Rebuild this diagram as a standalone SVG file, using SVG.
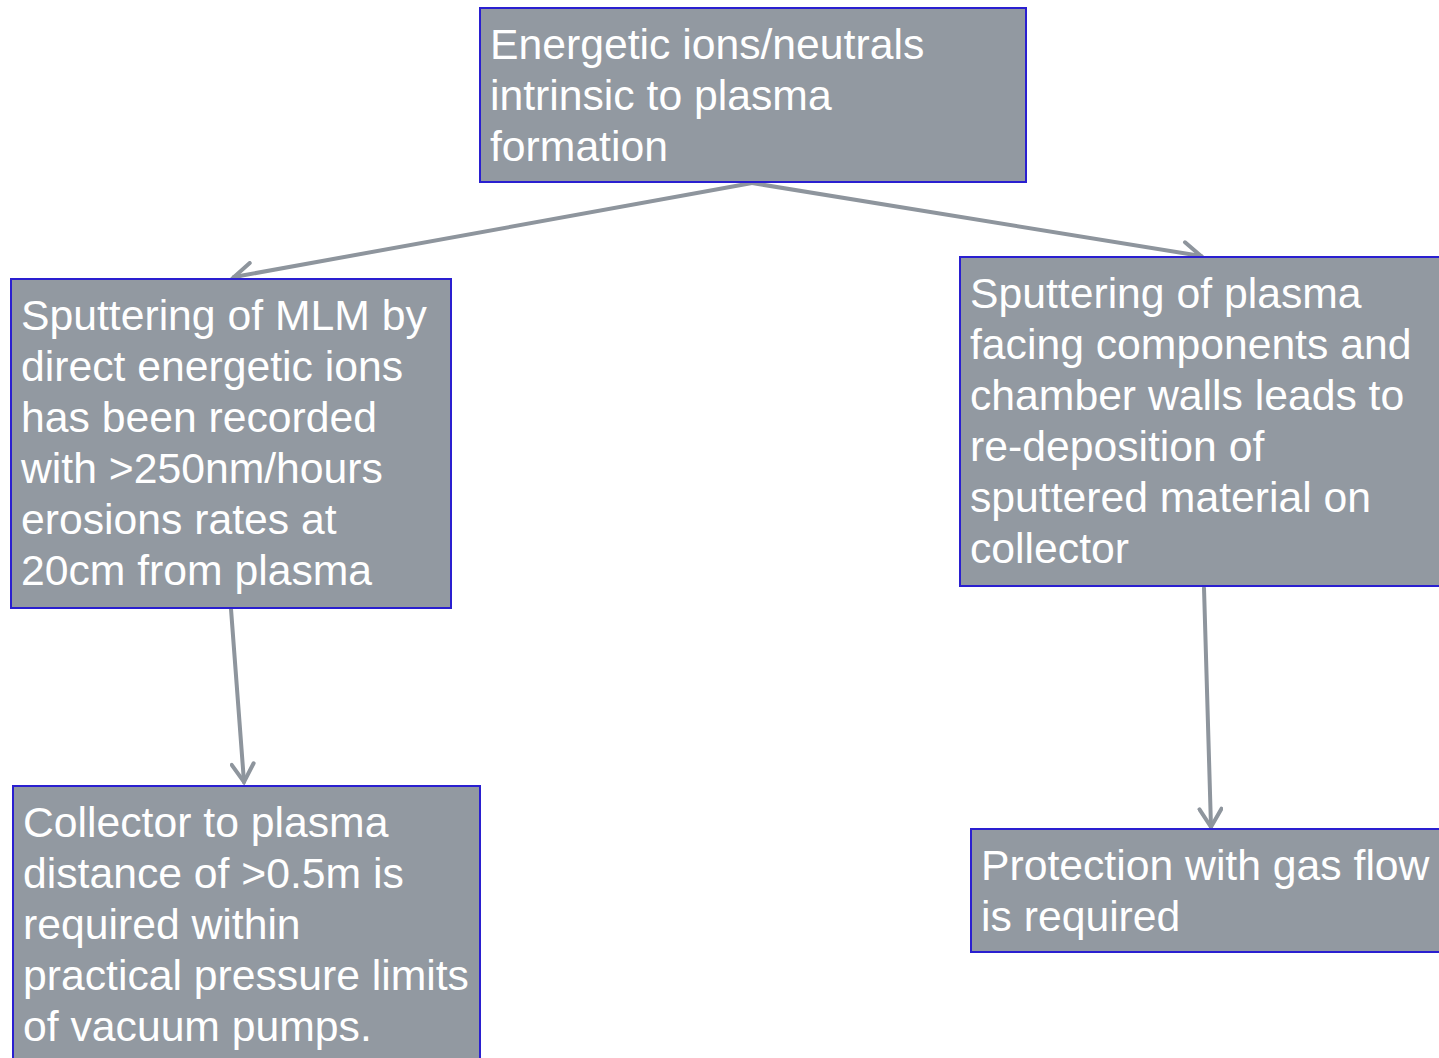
<svg xmlns="http://www.w3.org/2000/svg" width="1439" height="1058" viewBox="0 0 1439 1058">
<style>
.box{fill:#9299a1;stroke:#2a1fd0;stroke-width:2}
.t{font-family:"Liberation Sans",Arial,sans-serif;font-size:42.7px;fill:#ffffff}
.c{stroke:#8e959d;stroke-width:4;fill:none;stroke-linecap:round}
</style>
<defs>
<marker id="arr" markerUnits="userSpaceOnUse" viewBox="-22 -13 26 26" markerWidth="26" markerHeight="26" refX="0" refY="0" orient="auto">
<path d="M-18,-11 L0,0 L-18,11" fill="none" stroke="#8e959d" stroke-width="4" stroke-linecap="round" stroke-linejoin="miter"/>
</marker>
</defs>
<rect width="1439" height="1058" fill="#ffffff"/>
<g id="connectors">
<line class="c" x1="752" y1="183" x2="234" y2="277" marker-end="url(#arr)"/>
<line class="c" x1="752" y1="183" x2="1201" y2="256" marker-end="url(#arr)"/>
<line class="c" x1="231" y1="609" x2="244" y2="782" marker-end="url(#arr)"/>
<line class="c" x1="1204" y1="588" x2="1211" y2="827" marker-end="url(#arr)"/>
</g>
<g id="n1">
<rect class="box" x="480" y="8" width="546" height="174"/>
<text class="t" x="490" y="59">Energetic ions/neutrals</text>
<text class="t" x="490" y="110">intrinsic to plasma</text>
<text class="t" x="490" y="161">formation</text>
</g>
<g id="n2">
<rect class="box" x="11" y="279" width="440" height="329"/>
<text class="t" x="21" y="330">Sputtering of MLM by</text>
<text class="t" x="21" y="381">direct energetic ions</text>
<text class="t" x="21" y="432">has been recorded</text>
<text class="t" x="21" y="483">with &gt;250nm/hours</text>
<text class="t" x="21" y="534">erosions rates at</text>
<text class="t" x="21" y="585">20cm from plasma</text>
</g>
<g id="n3">
<rect class="box" x="960" y="257" width="484" height="329"/>
<text class="t" x="970" y="308">Sputtering of plasma</text>
<text class="t" x="970" y="359">facing components and</text>
<text class="t" x="970" y="410">chamber walls leads to</text>
<text class="t" x="970" y="461">re-deposition of</text>
<text class="t" x="970" y="512">sputtered material on</text>
<text class="t" x="970" y="563">collector</text>
</g>
<g id="n4">
<rect class="box" x="13" y="786" width="467" height="280"/>
<text class="t" x="23" y="837">Collector to plasma</text>
<text class="t" x="23" y="888">distance of &gt;0.5m is</text>
<text class="t" x="23" y="939">required within</text>
<text class="t" x="23" y="990">practical pressure limits</text>
<text class="t" x="23" y="1041">of vacuum pumps.</text>
</g>
<g id="n5">
<rect class="box" x="971" y="829" width="473" height="123"/>
<text class="t" x="981" y="880">Protection with gas flow</text>
<text class="t" x="981" y="931">is required</text>
</g>
</svg>
